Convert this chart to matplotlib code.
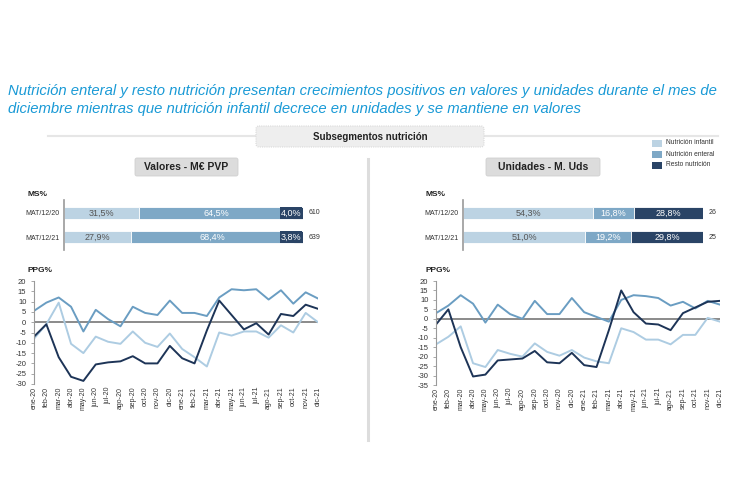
import matplotlib
matplotlib.use("Agg")
import matplotlib.pyplot as plt
from matplotlib.patches import FancyBboxPatch, Rectangle
import numpy as np

plt.rcParams['font.family'] = ['Liberation Sans', 'DejaVu Sans']
plt.rcParams['axes.unicode_minus'] = False

months = ["ene-20","feb-20","mar-20","abr-20","may-20","jun-20","jul-20","ago-20","sep-20","oct-20","nov-20","dic-20",
          "ene-21","feb-21","mar-21","abr-21","may-21","jun-21","jul-21","ago-21","sep-21","oct-21","nov-21","dic-21"]
segments = ["Nutrición infantil", "Nutrición enteral", "Resto nutrición"]
periods = ["MAT/12/20", "MAT/12/21"]

# Market share (%) - Valores
ms_val_infantil = [31.5, 27.9]
ms_val_enteral = [64.5, 68.4]
ms_val_resto = [4.0, 3.8]
tot_val = ["610", "639"]
# Market share (%) - Unidades
ms_uds_infantil = [54.3, 51.0]
ms_uds_enteral = [16.8, 19.2]
ms_uds_resto = [28.8, 29.8]
tot_uds = ["26", "25"]

# PPG% - Valores
ppg_val_enteral = [5.5, 9.5, 12, 7.5, -4.5, 6, 1.5, -2, 7.5, 4.5, 3.5, 10.5, 4.5, 4.5, 3, 12, 16, 15.5, 16, 11, 15.5, 9, 14.5, 11.5]
ppg_val_infantil = [-8, -1, 9.5, -10.5, -15, -7, -9.5, -10.5, -4.5, -10, -12, -5.5, -13, -17, -21.5, -5, -6.5, -4.5, -4.5, -7.5, -1.5, -5, 4.5, 0]
ppg_val_resto = [-7, -1, -17, -26.5, -28.5, -20.5, -19.5, -19, -16.5, -20, -20, -11.5, -17.5, -20, -4, 10.5, 3.5, -3.5, -0.5, -6, 4, 3, 8.5, 6.5]
# PPG% - Unidades
ppg_uds_enteral = [3, 7, 12.5, 8, -2, 7.5, 2.5, 0, 9.5, 2.5, 2.5, 11, 3.5, 1, -1.5, 10, 12.5, 12, 11, 7, 9, 5.5, 9.5, 7.5]
ppg_uds_infantil = [-13.5, -9.5, -4, -23.5, -25.5, -16.5, -18.5, -20, -13, -17.5, -19.5, -16.5, -20.5, -22.5, -23.5, -5, -7, -11, -11, -13.5, -8.5, -8.5, 0.5, -1.5]
ppg_uds_resto = [-3, 5, -15, -30.5, -29.5, -22, -21.5, -21, -17, -23, -23.5, -18, -24.5, -25.5, -6, 15, 3.5, -2.5, -3, -6, 3, 6, 9, 9.5]

bar_colors = ["#BCD3E3", "#7EA8C6", "#2A4466"]
line_colors = ["#ADCCE2", "#6A9DC2", "#1D3457"]
title_color = "#1A9AD6"

W, H = 750, 500
fig = plt.figure(figsize=(7.5, 5), dpi=100)

def fx(x): return x / W
def fy(y): return 1 - y / H
def add_axes_px(x0, y0, x1, y1):
    return fig.add_axes([fx(x0), fy(y1), fx(x1 - x0), (y1 - y0) / H])

# Title
fig.text(fx(8), fy(91), "Nutrición enteral y resto nutrición presentan crecimientos positivos en valores y unidades durante el mes de",
         color=title_color, style='italic', fontsize=10.7, va='center', ha='left')
fig.text(fx(8), fy(109), "diciembre mientras que nutrición infantil decrece en unidades y se mantiene en valores",
         color=title_color, style='italic', fontsize=10.7, va='center', ha='left')

# Overlay axis for decorations
deco = fig.add_axes([0, 0, 1, 1])
deco.set_xlim(0, W); deco.set_ylim(H, 0); deco.axis('off')
deco.plot([48, 718], [136, 136], color="#E6E6E6", lw=1.5, zorder=1)
deco.add_patch(FancyBboxPatch((256, 126), 228, 21, boxstyle="round,pad=0,rounding_size=3",
                              fc="#EEEEEE", ec="#DADADA", lw=0.8, ls=(0, (1, 1)), zorder=2))
deco.text(370, 137, "Subsegmentos nutrición", ha='center', va='center', fontsize=7, fontweight='bold', color="#222222", zorder=3)
deco.plot([368, 368], [159, 440], color="#DDDDDD", lw=2.2)
for (x0, x1, lab) in [(135, 238, "Valores - M€ PVP"), (486, 600, "Unidades - M. Uds")]:
    deco.add_patch(FancyBboxPatch((x0, 158), x1 - x0, 18, boxstyle="round,pad=0,rounding_size=2",
                                  fc="#DCDCDC", ec="#D0D0D0", lw=0.6))
    deco.text((x0 + x1) / 2, 167.5, lab, ha='center', va='center', fontsize=7.5, fontweight='bold', color="#222222")
# Legend
for i, (lab, c) in enumerate(zip(segments, bar_colors)):
    yy = 143 + i * 11
    deco.add_patch(Rectangle((652, yy - 3.5), 10, 7, fc=c, ec='none'))
    deco.text(666, yy, lab, ha='left', va='center', fontsize=4.8, color="#333333")
deco.text(27, 195, "MS%", fontsize=6, fontweight='bold', color="#222222", va='center')
deco.text(425, 195, "MS%", fontsize=6, fontweight='bold', color="#222222", va='center')
deco.text(27, 271, "PPG%", fontsize=6, fontweight='bold', color="#222222", va='center')
deco.text(425, 271, "PPG%", fontsize=6, fontweight='bold', color="#222222", va='center')

def bar_panel(x0, x1, inf, ent, res, tots, resto_box):
    ax = add_axes_px(x0, 200, x1, 250)
    y = np.arange(len(periods))
    data = [inf, ent, res]
    left = np.zeros(len(periods))
    for k, (vals, c) in enumerate(zip(data, bar_colors)):
        vals = np.array(vals)
        ax.barh(y, vals, left=left, height=0.5, color=c, edgecolor='white', linewidth=0.6)
        for j in range(len(periods)):
            txt = f"{vals[j]:.1f}%".replace('.', ',')
            tc = "#555555" if k == 0 else "white"
            cx = left[j] + vals[j] / 2
            if resto_box and k == 2:
                ax.text(99.3, y[j], txt, ha='right', va='center', fontsize=6.5, color='white',
                        bbox=dict(boxstyle='square,pad=0.12', fc=c, ec='none'))
            else:
                ax.text(cx, y[j], txt, ha='center', va='center', fontsize=6.5, color=tc)
        left = left + vals
    for j in range(len(periods)):
        ax.text(102.3, y[j], tots[j], ha='left', va='center', fontsize=5, color="#333333")
    ax.set_xlim(0, 100)
    ax.set_ylim(1.54, -0.54)
    ax.set_yticks(y)
    ax.set_yticklabels(periods, fontsize=5, color="#333333")
    ax.set_xticks([])
    for s in ['top', 'right', 'bottom']:
        ax.spines[s].set_visible(False)
    ax.spines['left'].set_color("#999999")
    ax.spines['left'].set_linewidth(1.2)
    ax.tick_params(axis='y', length=0, pad=3)
    return ax

bar_panel(64, 303, ms_val_infantil, ms_val_enteral, ms_val_resto, tot_val, True)
bar_panel(463, 703, ms_uds_infantil, ms_uds_enteral, ms_uds_resto, tot_uds, False)

def line_panel(x0, x1, y0, y1, series, ymin, ymax):
    ax = add_axes_px(x0, y0, x1, y1)
    x = np.arange(len(months))
    ax.axhline(0, color="#8A8A8A", lw=1.4, zorder=1)
    for s, c in zip(series, line_colors):
        ax.plot(x, s, color=c, lw=1.4, zorder=2)
    ax.set_xlim(0, len(months) - 1)
    ax.set_ylim(ymin, ymax)
    ax.set_yticks(np.arange(ymin, ymax + 1, 5))
    ax.set_xticks(x)
    ax.set_xticklabels(months, rotation=90, fontsize=5, color="#333333")
    ax.tick_params(axis='y', labelsize=5.5, colors="#333333", length=2, width=0.6, color="#999999")
    ax.tick_params(axis='x', length=0, pad=2)
    for s in ['top', 'right', 'bottom']:
        ax.spines[s].set_visible(False)
    ax.spines['left'].set_color("#999999")
    ax.spines['left'].set_linewidth(0.8)
    return ax

line_panel(34, 318, 281, 384, [ppg_val_infantil, ppg_val_enteral, ppg_val_resto], -30, 20)
line_panel(436, 720, 281, 385, [ppg_uds_infantil, ppg_uds_enteral, ppg_uds_resto], -35, 20)

fig.savefig("out.png", dpi=100)
